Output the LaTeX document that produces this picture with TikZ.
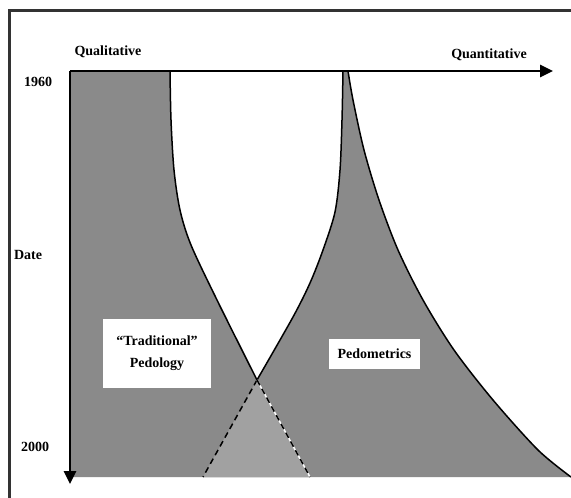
\documentclass[tikz,border=0pt]{standalone}
\usepackage{fontspec}
\setmainfont{Liberation Serif}
\usetikzlibrary{arrows.meta}

\begin{document}
\begin{tikzpicture}[x=1pt,y=-1pt,
  lbl/.style={font=\fontsize{14}{17}\selectfont\bfseries},
  axis/.style={line width=2.8pt,-{Triangle[length=13pt,width=12pt]}},
  band/.style={line width=1.5pt},
  area/.style={fill=black!46},
  labelbox/.style={fill=white,inner sep=0pt,align=center}]

\useasboundingbox (0,0) rectangle (571,498);
\draw [line width=3pt,black!80] (9,498) -- (9,10) -- (571,10);

% shaded fields
\fill [area] (70,71) -- (170,71) -- plot [smooth] coordinates {(170,71) (171,120) (174,170) (180,210) (191,245) (217,300) (257,380)} -- (310,477) -- (70,477) -- cycle;
\fill [area] (343,71) -- (348,71) -- plot [smooth] coordinates {(348,71) (353,100) (364,150) (379,200) (398,250) (423,300) (454,350) (493,400) (538,450) (571,477)} -- (203,477) -- plot [smooth] coordinates {(257,380) (293,317) (310,283) (323,250) (335,212) (340,170) (342,120) (343,71)} -- cycle;
\fill [black!37] (257,380) -- (203,477) -- (310,477) -- cycle;

% boundaries
\draw [band] plot [smooth] coordinates {(170,71) (171,120) (174,170) (180,210) (191,245) (217,300) (257,380)};
\draw [band] plot [smooth] coordinates {(257,380) (293,317) (310,283) (323,250) (335,212) (340,170) (342,120) (343,71)};
\draw [band] plot [smooth] coordinates {(348,71) (353,100) (364,150) (379,200) (398,250) (423,300) (454,350) (493,400) (538,450) (571,477)};
\draw [band,dash pattern=on 6pt off 4pt] (257,380) -- (203,477);
\draw [band,white] (257,380) -- (310,477);
\draw [band,dash pattern=on 6pt off 4pt] (257,380) -- (310,477);

% axes
\coordinate (o) at (70,71);
\coordinate (xend) at (553,71);
\coordinate (yend) at (70,484);
\draw [axis] (o) -- (xend);
\draw [axis] (o) -- (yend);

\node (ql) at (108,52) [lbl] {Qualitative};
\node (qn) at (489,55) [lbl] {Quantitative};
\node (y1) at (38,82) [lbl] {1960};
\node (dt) at (28,255) [lbl] {Date};
\node (y2) at (35,447) [lbl] {2000};

\node (trad) at (157,353.5) [labelbox,lbl,minimum width=108pt,minimum height=69pt] {``Traditional''\\[5pt]Pedology};
\node (pedo) at (374.5,354) [labelbox,lbl,minimum width=91pt,minimum height=30pt] {Pedometrics};

\end{tikzpicture}
\end{document}
